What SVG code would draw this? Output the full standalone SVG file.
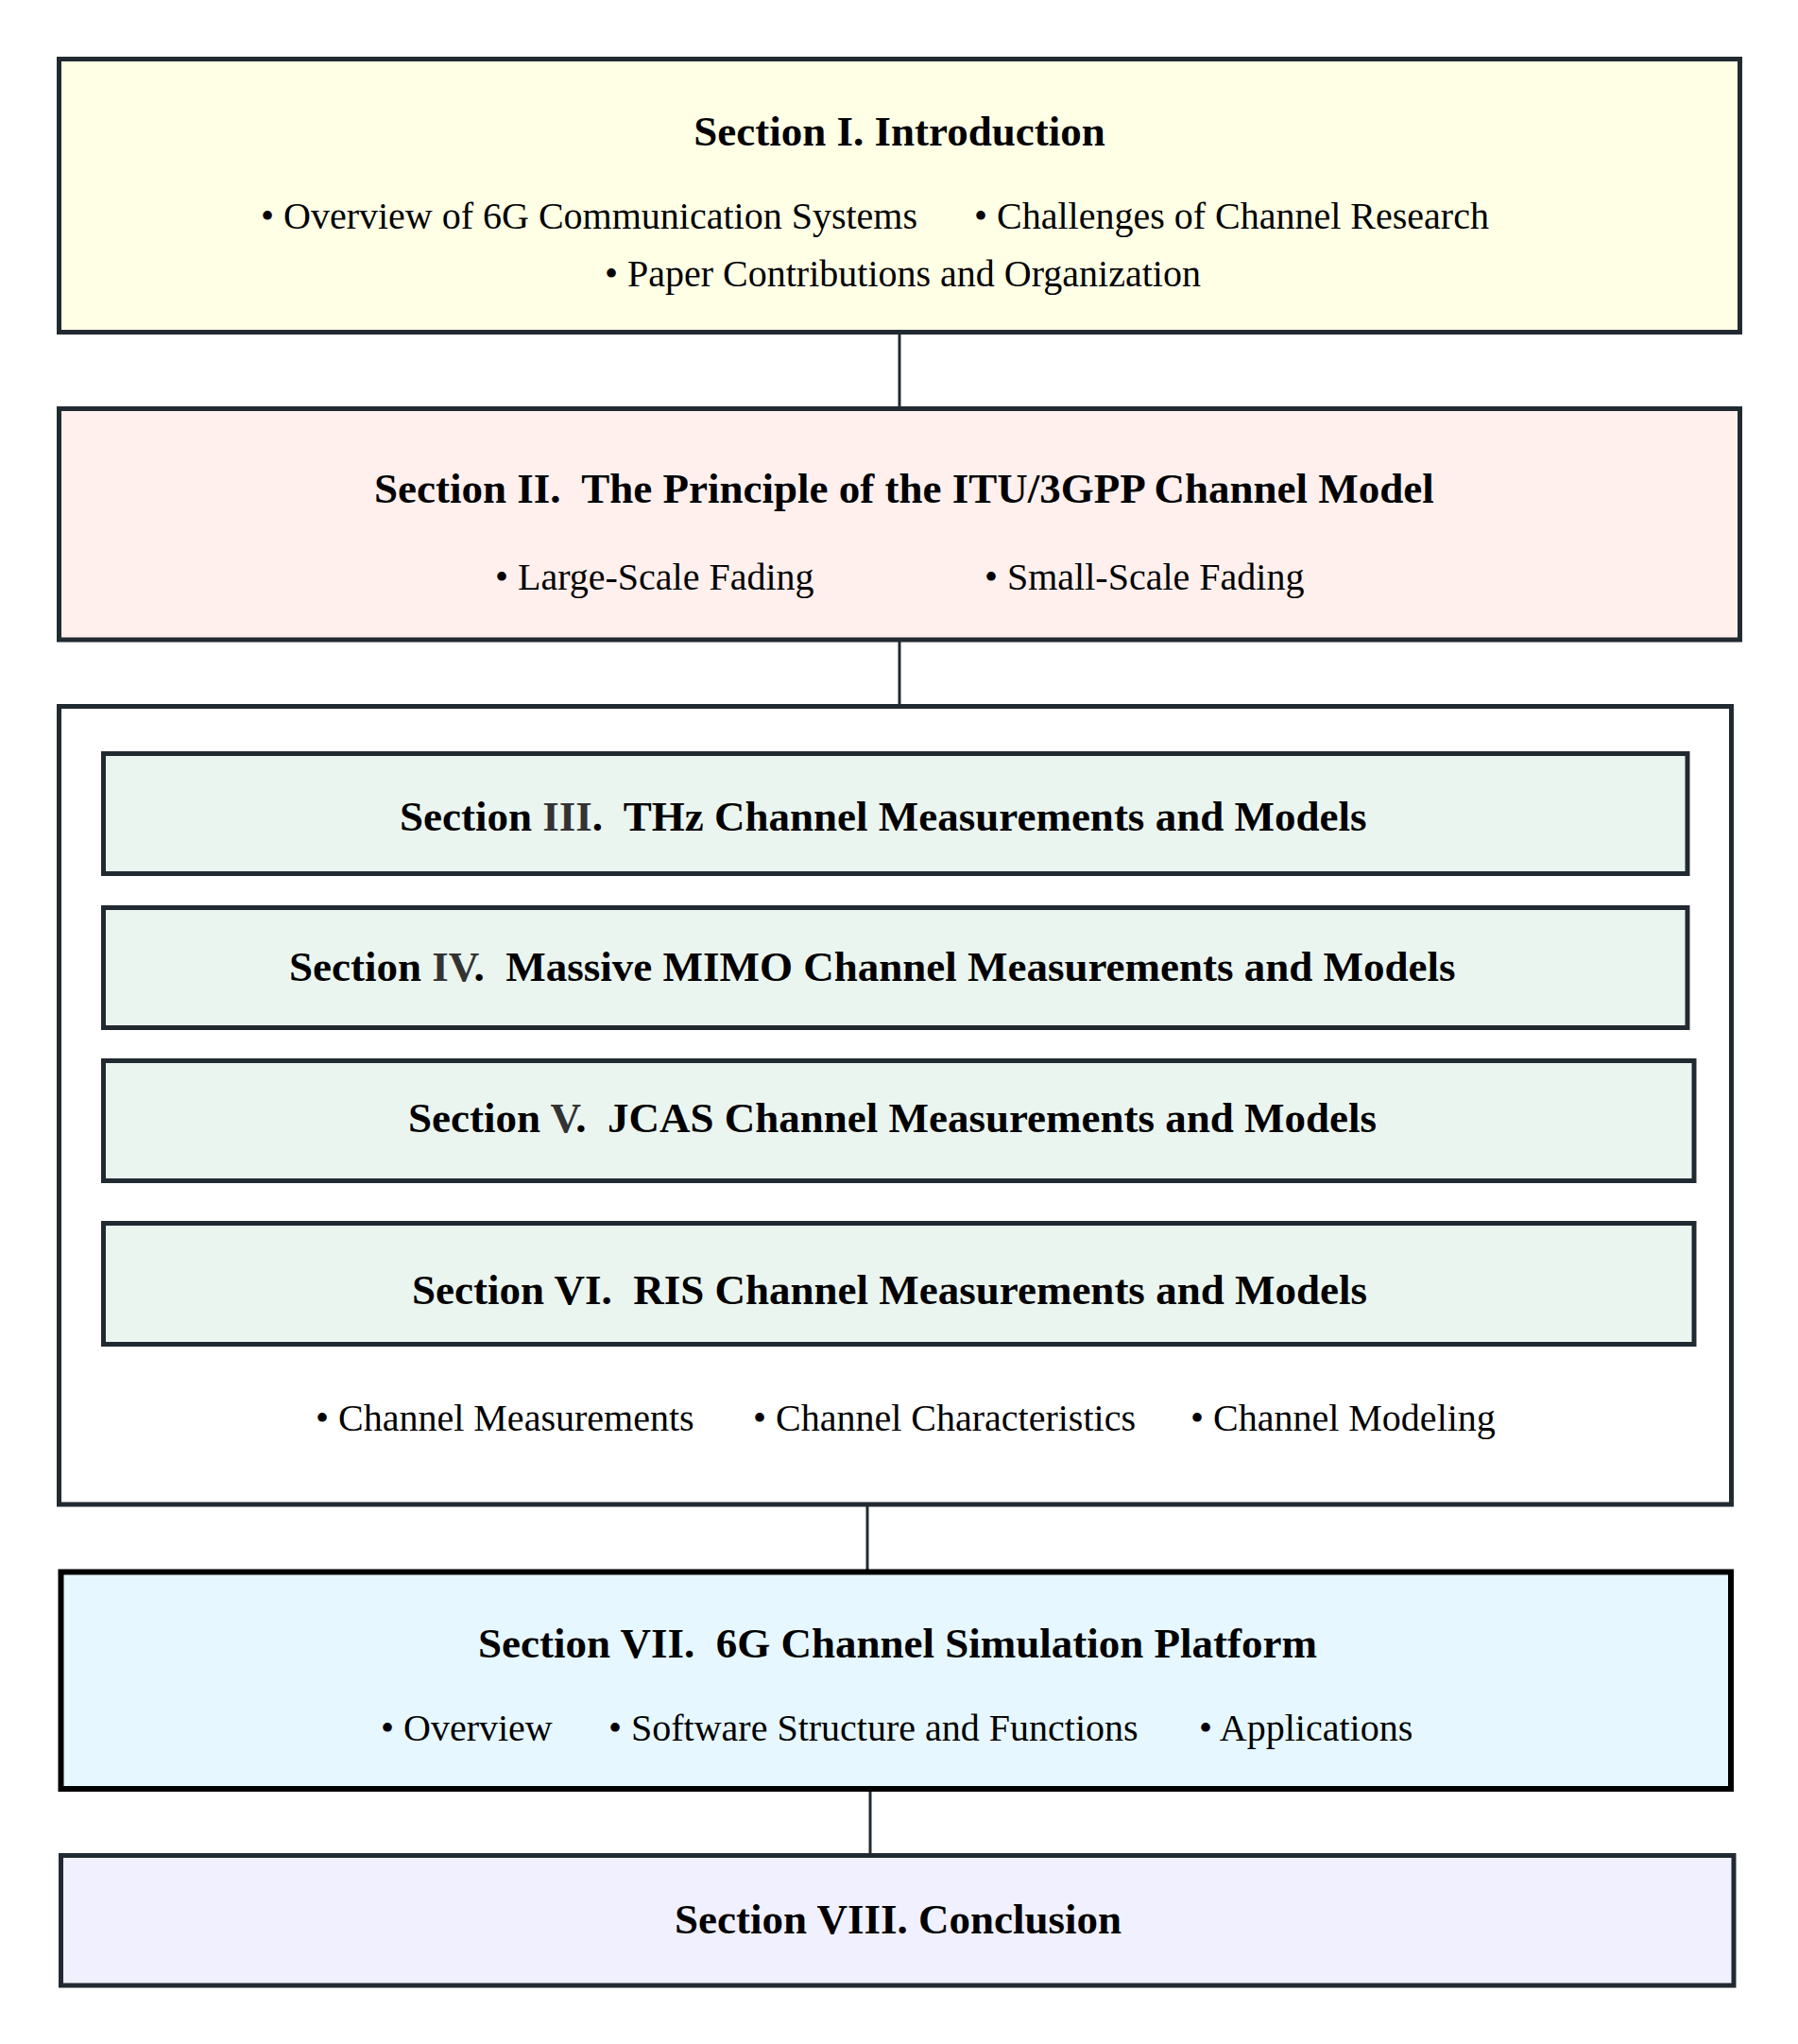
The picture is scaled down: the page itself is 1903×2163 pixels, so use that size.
<svg xmlns="http://www.w3.org/2000/svg" width="1903" height="2163" viewBox="0 0 1903 2163">
<style>
.box{stroke:#222a31;stroke-width:5}
.t{font-family:"Liberation Serif","Times New Roman",serif;font-size:45px;font-weight:bold;fill:#000;white-space:pre}
.b{font-family:"Liberation Serif","Times New Roman",serif;font-size:40px;fill:#000;white-space:pre}
.g{fill:#333}
.c{stroke:#222a31;stroke-width:3;fill:none}
</style>
<rect width="1903" height="2163" fill="#fff"/>
<g id="connectors">
<line class="c" x1="952" y1="354" x2="952" y2="430"/>
<line class="c" x1="952" y1="679" x2="952" y2="745"/>
<line class="c" x1="918" y1="1594" x2="918" y2="1661"/>
<line class="c" x1="921" y1="1895" x2="921" y2="1961"/>
</g>
<g id="sec1">
<rect class="box" x="62.5" y="62.5" width="1779" height="289" fill="#ffffe6"/>
<text class="t" x="952" y="154" text-anchor="middle">Section I. Introduction</text>
<text class="b" x="276" y="242">• Overview of 6G Communication Systems</text>
<text class="b" x="1031" y="242">• Challenges of Channel Research</text>
<text class="b" x="640" y="303">• Paper Contributions and Organization</text>
</g>
<g id="sec2">
<rect class="box" x="62.5" y="432.5" width="1779" height="244.5" fill="#fff0ee"/>
<text class="t" x="396" y="532">Section II.  The Principle of the ITU/3GPP Channel Model</text>
<text class="b" x="524" y="624">• Large-Scale Fading</text>
<text class="b" x="1042" y="624">• Small-Scale Fading</text>
</g>
<g id="group36">
<rect class="box" x="62.5" y="747.5" width="1770" height="844.5" fill="#fff"/>
<text class="b" x="334" y="1514">• Channel Measurements</text>
<text class="b" x="797" y="1514">• Channel Characteristics</text>
<text class="b" x="1260" y="1514">• Channel Modeling</text>
</g>
<g id="sec3">
<rect class="box" x="109.5" y="797.5" width="1676.5" height="127" fill="#ebf5f0"/>
<text class="t" x="423" y="879">Section <tspan class="g">III</tspan>.  THz Channel Measurements and Models</text>
</g>
<g id="sec4">
<rect class="box" x="109.5" y="960.5" width="1676.5" height="127" fill="#ebf5f0"/>
<text class="t" x="306" y="1038">Section <tspan class="g">IV</tspan>.  Massive MIMO Channel Measurements and Models</text>
</g>
<g id="sec5">
<rect class="box" x="109.5" y="1122.5" width="1683.5" height="127" fill="#ebf5f0"/>
<text class="t" x="432" y="1198">Section <tspan class="g">V</tspan>.  JCAS Channel Measurements and Models</text>
</g>
<g id="sec6">
<rect class="box" x="109.5" y="1294.5" width="1683.5" height="128" fill="#ebf5f0"/>
<text class="t" x="436" y="1380">Section VI.  RIS Channel Measurements and Models</text>
</g>
<g id="sec7">
<rect x="64.5" y="1663.5" width="1767.5" height="229.5" fill="#e6f7ff" stroke="#000" stroke-width="6"/>
<text class="t" x="506" y="1754">Section VII.  6G Channel Simulation Platform</text>
<text class="b" x="403" y="1842">• Overview</text>
<text class="b" x="644" y="1842">• Software Structure and Functions</text>
<text class="b" x="1269" y="1842">• Applications</text>
</g>
<g id="sec8">
<rect class="box" x="64.5" y="1963.5" width="1770.5" height="137.5" fill="#f0f0ff"/>
<text class="t" x="714" y="2046">Section VIII. Conclusion</text>
</g>
</svg>
